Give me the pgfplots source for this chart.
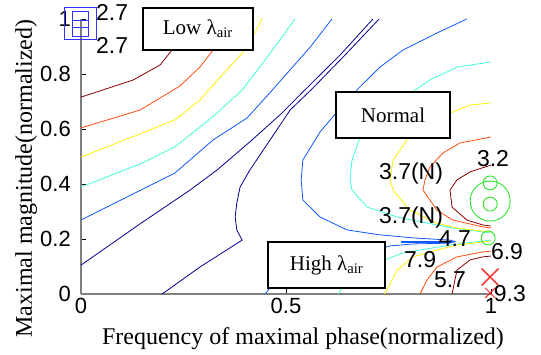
\documentclass[border=0pt]{standalone}
\usepackage{pgfplots}
\pgfplotsset{compat=1.18}
\usepackage{fontspec}
\setmainfont{Liberation Serif}
\newfontfamily\arial{Liberation Sans}
\definecolor{cnavy}{rgb}{0,0,0.56}
\definecolor{cblue}{rgb}{0.05,0.35,1}
\definecolor{ccyan}{rgb}{0.25,1,0.85}
\definecolor{cyel}{rgb}{1,0.95,0}
\definecolor{corange}{rgb}{1,0.3,0.05}
\definecolor{cdred}{rgb}{0.55,0,0}
\definecolor{cgreen}{rgb}{0.1,0.9,0.1}
\definecolor{cred}{rgb}{1,0.15,0.15}
\definecolor{csq}{rgb}{0.2,0.2,1}
\begin{document}
\begin{tikzpicture}
\useasboundingbox (-81pt,-60pt) rectangle (460pt,294pt);
\begin{axis}[
  at={(0pt,0pt)}, anchor=south west,
  scale only axis, width=410pt, height=275pt,
  xmin=0, xmax=1, ymin=0, ymax=1,
  axis x line=bottom, axis y line=left,
  axis line style={-, draw=gray, line width=1.4pt},
  xtick={0,0.5,1}, ytick={0,0.2,0.4,0.6,0.8,1},
  tick align=inside, major tick length=5pt,
  tick style={black, line width=0.6pt},
  /pgf/number format/assume math mode=true,
  ticklabel style={font=\arial\fontsize{22}{22}\selectfont},
  xticklabel style={anchor=base, yshift=-19pt, inner sep=0pt},
  yticklabel style={anchor=east, xshift=-10pt, inner sep=0pt},
  xlabel={Frequency of maximal phase(normalized)},
  ylabel={Maximal magnitude(normalized)},
  label style={font=\fontsize{24}{24}\selectfont},
  xlabel style={at={(axis description cs:0.5,0)}, anchor=base, yshift=-50pt, xshift=17pt},
  ylabel style={at={(axis description cs:0,0.5)}, anchor=base, yshift=49pt, xshift=-22pt},
  clip=false,
  every axis plot/.append style={line width=0.8pt},
]
% upper-left family
\addplot[cdred] coordinates {(0,0.716)(0.127,0.778)(0.193,0.833)(0.222,0.887)(0.241,0.942)(0.256,1.0)};
\addplot[corange] coordinates {(0,0.604)(0.144,0.669)(0.241,0.756)(0.29,0.825)(0.322,0.887)(0.351,0.942)(0.376,1.0)};
\addplot[cyel] coordinates {(0,0.498)(0.149,0.585)(0.229,0.633)(0.29,0.705)(0.344,0.796)(0.4,0.887)(0.424,0.949)(0.441,1.0)};
\addplot[ccyan] coordinates {(0,0.389)(0.149,0.476)(0.229,0.535)(0.327,0.651)(0.393,0.742)(0.449,0.851)(0.522,1.0)};
\addplot[cblue] coordinates {(0,0.269)(0.107,0.349)(0.229,0.44)(0.322,0.56)(0.405,0.64)(0.456,0.724)(0.51,0.815)(0.559,0.898)(0.612,1.0)};
\addplot[cnavy] coordinates {(0,0.105)(0.144,0.255)(0.266,0.378)(0.332,0.451)(0.417,0.56)(0.485,0.651)(0.546,0.742)(0.632,0.869)(0.712,1.0)};
\addplot[cnavy] coordinates {(0.198,0)(0.29,0.098)(0.393,0.196)(0.38,0.233)(0.376,0.28)(0.38,0.331)(0.388,0.389)(0.412,0.451)(0.461,0.56)(0.51,0.669)(0.561,0.742)(0.644,0.869)(0.727,1.0)};
% right family
\addplot[cblue] coordinates {(0.941,1.0)(0.868,0.949)(0.785,0.887)(0.729,0.825)(0.673,0.742)(0.622,0.658)(0.583,0.589)(0.541,0.487)(0.537,0.415)(0.541,0.342)(0.583,0.28)(0.649,0.233)(0.729,0.215)(0.81,0.204)(0.9,0.196)(0.912,0.191)(0.9,0.185)(0.81,0.182)(0.754,0.175)(0.62,0.12)(0.52,0.06)(0.461,0.022)(0.449,0)};
\addplot[cblue, line width=1.6pt] coordinates {(0.78,0.19)(0.905,0.19)};
\addplot[ccyan] coordinates {(1.0,0.844)(0.917,0.825)(0.851,0.778)(0.815,0.742)(0.766,0.684)(0.717,0.625)(0.68,0.567)(0.661,0.487)(0.656,0.415)(0.661,0.378)(0.698,0.316)(0.771,0.28)(0.844,0.258)(0.907,0.24)(1.0,0.222)};
\addplot[ccyan] coordinates {(0.627,0)(0.637,0.022)(0.68,0.069)(0.741,0.124)(0.785,0.149)(0.827,0.16)(0.9,0.178)(1.0,0.196)};
\addplot[cyel] coordinates {(1.0,0.695)(0.949,0.687)(0.9,0.658)(0.851,0.615)(0.815,0.578)(0.795,0.56)(0.761,0.487)(0.754,0.415)(0.761,0.378)(0.802,0.305)(0.868,0.258)(0.917,0.24)(1.0,0.225)};
\addplot[cyel] coordinates {(0.741,0)(0.771,0.087)(0.81,0.135)(0.868,0.16)(0.917,0.178)(1.0,0.193)};
\addplot[corange] coordinates {(1.0,0.571)(0.924,0.549)(0.883,0.513)(0.851,0.462)(0.839,0.415)(0.834,0.378)(0.868,0.305)(0.907,0.269)(0.98,0.244)(1.0,0.24)};
\addplot[corange] coordinates {(0.827,0)(0.844,0.051)(0.868,0.098)(0.917,0.135)(0.98,0.153)(1.0,0.156)};
\addplot[cdred] coordinates {(1.0,0.469)(0.949,0.444)(0.917,0.415)(0.9,0.378)(0.905,0.316)(0.941,0.269)(0.98,0.251)(1.0,0.247)};
\addplot[cdred] coordinates {(0.905,0)(0.917,0.087)(0.949,0.124)(0.98,0.135)(1.0,0.138)};
% markers
\addplot[only marks, mark=square, mark size=16pt, line width=1pt, mark options={draw=csq}] coordinates {(0,0.985)};
\addplot[only marks, mark=square, mark size=8pt, line width=1pt, mark options={draw=csq}] coordinates {(0,0.998)(0,0.964)};
\addplot[only marks, mark=o, mark size=20pt, line width=0.8pt, mark options={draw=cgreen}] coordinates {(0.998,0.338)};
\addplot[only marks, mark=o, mark size=7pt, line width=0.8pt, mark options={draw=cgreen}] coordinates {(0.998,0.404)(0.998,0.327)(0.993,0.204)};
\addplot[only marks, mark=x, mark size=12pt, line width=1.4pt, mark options={draw=cred}] coordinates {(0.998,0.062)};
\addplot[only marks, mark=x, mark size=7pt, line width=1pt, mark options={draw=cred}] coordinates {(0.998,0.004)};
% annotations
\begin{scope}[every node/.style={font=\arial\fontsize{23}{23}\selectfont, anchor=base, inner sep=0pt}]
\node at (axis cs:0.076,0.996) {2.7};
\node at (axis cs:0.076,0.873) {2.7};
\node at (axis cs:1.005,0.462) {3.2};
\node at (axis cs:0.805,0.415) {3.7(N)};
\node at (axis cs:0.805,0.258) {3.7(N)};
\node at (axis cs:0.912,0.171) {4.7};
\node at (axis cs:1.039,0.124) {6.9};
\node at (axis cs:0.827,0.095) {7.9};
\node at (axis cs:0.9,0.025) {5.7};
\node at (axis cs:1.046,-0.029) {9.3};
\end{scope}
\begin{scope}[every node/.style={draw=black, line width=1.5pt, fill=white, font=\fontsize{21}{21}\selectfont, inner sep=0pt}]
\node[minimum width=110pt, minimum height=42pt] at (axis cs:0.285,0.964) {Low λ\textsubscript{air}};
\node[minimum width=114pt, minimum height=46pt] at (axis cs:0.761,0.651) {Normal};
\node[minimum width=117pt, minimum height=46pt] at (axis cs:0.599,0.105) {High λ\textsubscript{air}};
\end{scope}
\end{axis}
\end{tikzpicture}
\end{document}
